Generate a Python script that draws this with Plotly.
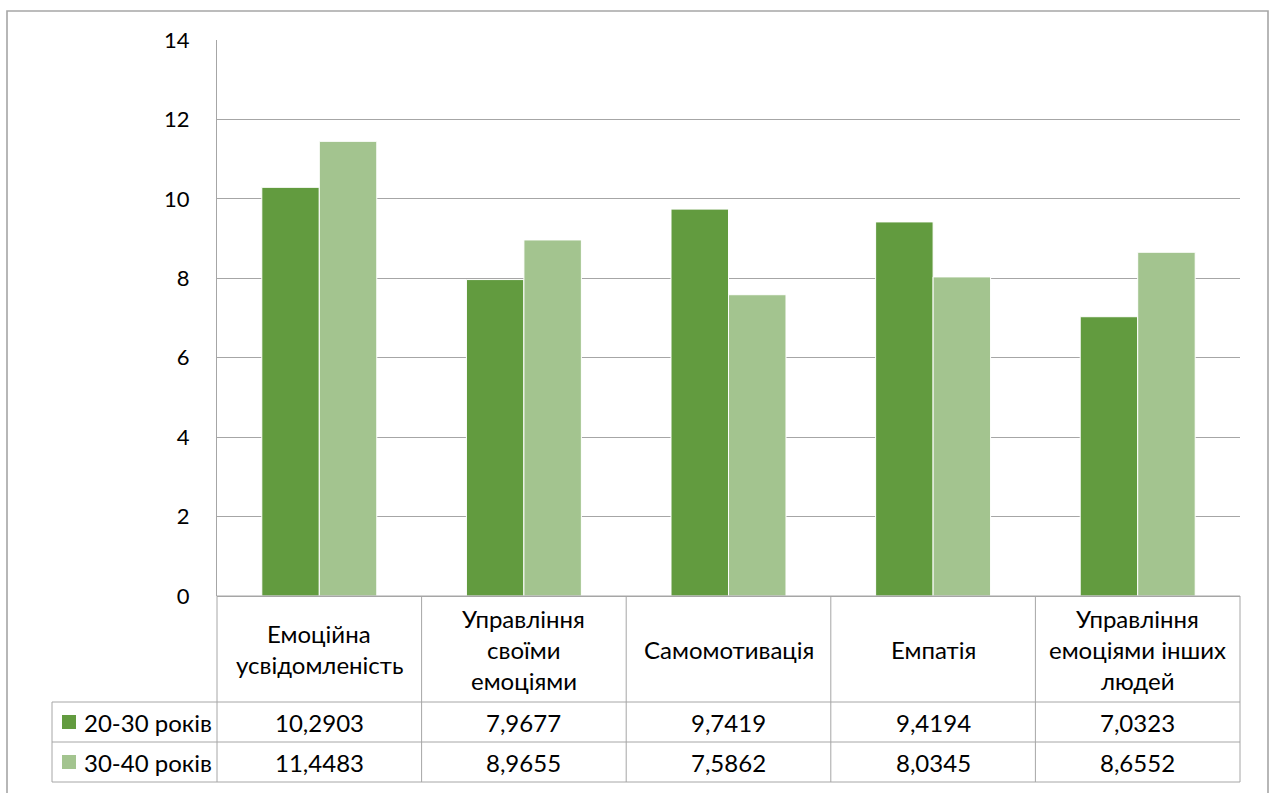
import plotly.graph_objects as go

# Data
categories = [
    "Емоційна\nусвідомленість",
    "Управління\nсвоїми\nемоціями",
    "Самомотивація",
    "Емпатія",
    "Управління\nемоціями інших\nлюдей",
]
series_names = ["20-30 років", "30-40 років"]
values_20_30 = [10.2903, 7.9677, 9.7419, 9.4194, 7.0323]
values_30_40 = [11.4483, 8.9655, 7.5862, 8.0345, 8.6552]
colors = ["#629B3F", "#A3C48F"]
y_ticks = [0, 2, 4, 6, 8, 10, 12, 14]

W, H = 1272, 793
FONT = "Lato"
FSIZE = 24
GRID = "#A6A6A6"

# Pixel layout of the plot area and the data table below it
PX_L, PX_R, PX_T, PX_B = 217, 1240, 40, 596
ROW_LINES = [596, 702, 742, 782]
LEGEND_L = 52


def px(x):
    return x / W


def py(y):
    return 1 - y / H


x_dom = [px(PX_L), px(PX_R)]
y_dom = [py(PX_B), py(PX_T)]
n = len(categories)


def col_x(pos):
    # paper x for a category-axis position (range -0.5 .. n-0.5)
    return x_dom[0] + (x_dom[1] - x_dom[0]) * (pos + 0.5) / n


fig = go.Figure()
for name, vals, col in zip(series_names, [values_20_30, values_30_40], colors):
    fig.add_trace(go.Bar(
        x=list(range(n)), y=vals, name=name,
        marker=dict(color=col, line=dict(color="white", width=1)),
        hoverinfo="y+name",
    ))

shapes = []
line = dict(color=GRID, width=1)
# outer chart frame (its bottom edge runs past the page)
shapes.append(dict(type="rect", xref="paper", yref="paper",
                   x0=px(7), x1=px(1268), y0=-0.02, y1=py(11),
                   line=dict(color=GRID, width=1.6), layer="below"))
# table horizontal lines
for yy in ROW_LINES[1:]:
    shapes.append(dict(type="line", xref="paper", yref="paper",
                       x0=px(LEGEND_L), x1=px(PX_R), y0=py(yy), y1=py(yy), line=line))
shapes.append(dict(type="line", xref="paper", yref="paper",
                   x0=px(PX_L), x1=px(PX_R), y0=py(ROW_LINES[0]), y1=py(ROW_LINES[0]), line=line))
# table vertical lines
for i in range(n + 1):
    xx = col_x(i - 0.5)
    shapes.append(dict(type="line", xref="paper", yref="paper",
                       x0=xx, x1=xx, y0=py(ROW_LINES[0]), y1=py(ROW_LINES[-1]), line=line))
shapes.append(dict(type="line", xref="paper", yref="paper",
                   x0=px(LEGEND_L), x1=px(LEGEND_L), y0=py(ROW_LINES[1]), y1=py(ROW_LINES[-1]), line=line))

annotations = []
TXT = dict(family=FONT, size=FSIZE, color="#000000")
LINE_H = 31
# category header cells
head_mid = (ROW_LINES[0] + ROW_LINES[1]) / 2
for i, cat in enumerate(categories):
    lines = cat.split("\n")
    start = head_mid - LINE_H * (len(lines) - 1) / 2
    for k, ln in enumerate(lines):
        annotations.append(dict(text=ln, xref="paper", yref="paper",
                                x=col_x(i), y=py(start + k * LINE_H),
                                xanchor="center", yanchor="middle",
                                showarrow=False, font=TXT))
# value rows with legend keys
for r, (name, vals, col) in enumerate(zip(series_names, [values_20_30, values_30_40], colors)):
    mid = (ROW_LINES[r + 1] + ROW_LINES[r + 2]) / 2
    shapes.append(dict(type="rect", xref="paper", yref="paper",
                       x0=px(62), x1=px(76), y0=py(mid + 7), y1=py(mid - 7),
                       fillcolor=col, line=dict(width=0)))
    annotations.append(dict(text=name, xref="paper", yref="paper",
                            x=px(82), y=py(mid), xanchor="left", yanchor="middle",
                            showarrow=False, font=TXT))
    for i, v in enumerate(vals):
        annotations.append(dict(text=f"{v:.4f}".replace(".", ","), xref="paper", yref="paper",
                                x=col_x(i), y=py(mid), xanchor="center", yanchor="middle",
                                showarrow=False, font=TXT))

fig.update_layout(
    width=W, height=H,
    margin=dict(l=0, r=0, t=0, b=0, autoexpand=False),
    paper_bgcolor="white", plot_bgcolor="white",
    barmode="group", bargap=0.438, bargroupgap=0,
    showlegend=False,
    font=dict(family=FONT, size=FSIZE, color="#000000"),
    xaxis=dict(domain=x_dom, range=[-0.5, n - 0.5], showticklabels=False,
               showgrid=False, zeroline=False, showline=False,
               automargin=False, fixedrange=True),
    yaxis=dict(domain=y_dom, range=[0, 14], tickvals=y_ticks,
               ticktext=[str(t) for t in y_ticks],
               showgrid=True, gridcolor=GRID, gridwidth=1,
               zeroline=True, zerolinecolor=GRID, zerolinewidth=1,
               showline=True, linecolor=GRID, linewidth=1,
               ticks="", ticklabelstandoff=22, tickfont=dict(family=FONT, size=22),
               automargin=False, fixedrange=True),
    shapes=shapes,
    annotations=annotations,
)

fig.write_html("out.html")
